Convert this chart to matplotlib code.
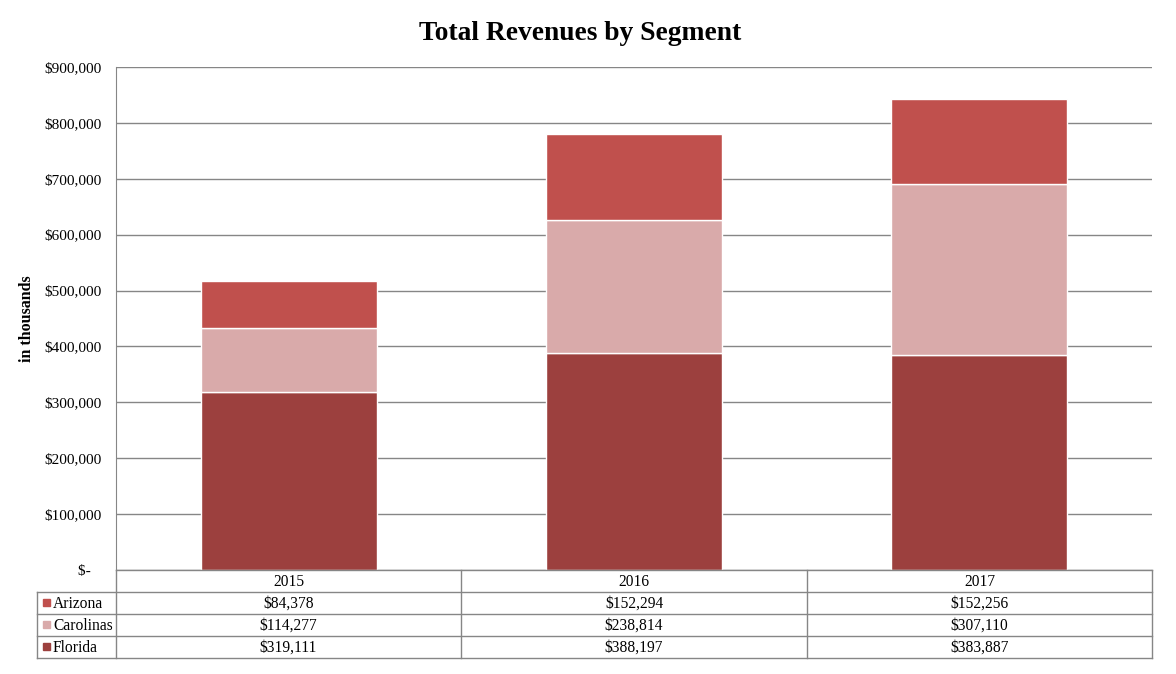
import numpy as np
import matplotlib.pyplot as plt

years = ["2015", "2016", "2017"]
segments = ["Arizona", "Carolinas", "Florida"]
florida = [319111, 388197, 383887]
carolinas = [114277, 238814, 307110]
arizona = [84378, 152294, 152256]
colors = {"Arizona": "#C0504D", "Carolinas": "#D9AAAA", "Florida": "#9C403E"}

plt.rcParams['font.family'] = ['Liberation Serif', 'DejaVu Serif']

W, H = 1176, 674
fig = plt.figure(figsize=(W / 100, H / 100), dpi=100)
# plot area in pixels
x0, x1, ytop, ybot = 116, 1152, 67, 570
ax = fig.add_axes([x0 / W, 1 - ybot / H, (x1 - x0) / W, (ybot - ytop) / H])

x = np.arange(len(years))
w = 0.51
ax.bar(x, florida, w, color=colors["Florida"], edgecolor="white", linewidth=1, zorder=3)
ax.bar(x, carolinas, w, bottom=florida, color=colors["Carolinas"], edgecolor="white", linewidth=1, zorder=3)
bot2 = np.array(florida) + np.array(carolinas)
ax.bar(x, arizona, w, bottom=bot2, color=colors["Arizona"], edgecolor="white", linewidth=1, zorder=3)

ax.set_xlim(-0.5, 2.5)
ax.set_ylim(0, 900000)
ax.set_yticks(np.arange(0, 900001, 100000))
ax.set_yticklabels(["$-   "] + ["${:,.0f}".format(v) for v in np.arange(100000, 900001, 100000)])
ax.tick_params(axis="y", length=0, labelsize=11, pad=10)
ax.set_xticks([])
ax.yaxis.grid(True, color="#868686", linewidth=1, zorder=0)
for s in ["top", "right", "bottom"]:
    ax.spines[s].set_visible(False)
ax.spines["left"].set_color("#868686")
ax.set_ylabel("in thousands", fontsize=11.5, fontweight="bold")
ax.yaxis.set_label_coords((35 - x0) / (x1 - x0), 0.5)

fig.text(580 / W, 1 - 33 / H, "Total Revenues by Segment", ha="center", va="center",
         fontsize=19.8, fontweight="bold")

# data table drawn below the axes
def fx(px):
    return px / W

def fy(py):
    return 1 - py / H

lc = "#868686"
col_edges = [116, 461, 807, 1152]
row_edges = [570, 592, 614, 636, 658]
lab_left = 37

def hline(y, xa, xb):
    fig.add_artist(plt.Line2D([fx(xa), fx(xb)], [fy(y), fy(y)], color=lc, linewidth=1))

def vline(xp, ya, yb):
    fig.add_artist(plt.Line2D([fx(xp), fx(xp)], [fy(ya), fy(yb)], color=lc, linewidth=1))

hline(row_edges[0], col_edges[0], col_edges[-1])
for r in row_edges[1:]:
    hline(r, lab_left, col_edges[-1])
for c in col_edges:
    vline(c, row_edges[0], row_edges[-1])
vline(lab_left, row_edges[1], row_edges[-1])

fs = 11.2
for i, yr in enumerate(years):
    cx = (col_edges[i] + col_edges[i + 1]) / 2
    fig.text(fx(cx), fy((row_edges[0] + row_edges[1]) / 2 + 1), yr, ha="center", va="center", fontsize=fs)

table_vals = {"Arizona": arizona, "Carolinas": carolinas, "Florida": florida}
for j, seg in enumerate(segments):
    yc = (row_edges[j + 1] + row_edges[j + 2]) / 2
    fig.patches.append(plt.Rectangle((fx(43), fy(yc + 3)), 7 / W, 7 / H,
                                     transform=fig.transFigure, color=colors[seg], figure=fig))
    fig.text(fx(53), fy(yc + 1), seg, ha="left", va="center", fontsize=fs)
    for i in range(len(years)):
        cx = (col_edges[i] + col_edges[i + 1]) / 2
        fig.text(fx(cx), fy(yc + 1), "${:,.0f}".format(table_vals[seg][i]), ha="center", va="center", fontsize=fs)

fig.savefig("out.png", dpi=100)
